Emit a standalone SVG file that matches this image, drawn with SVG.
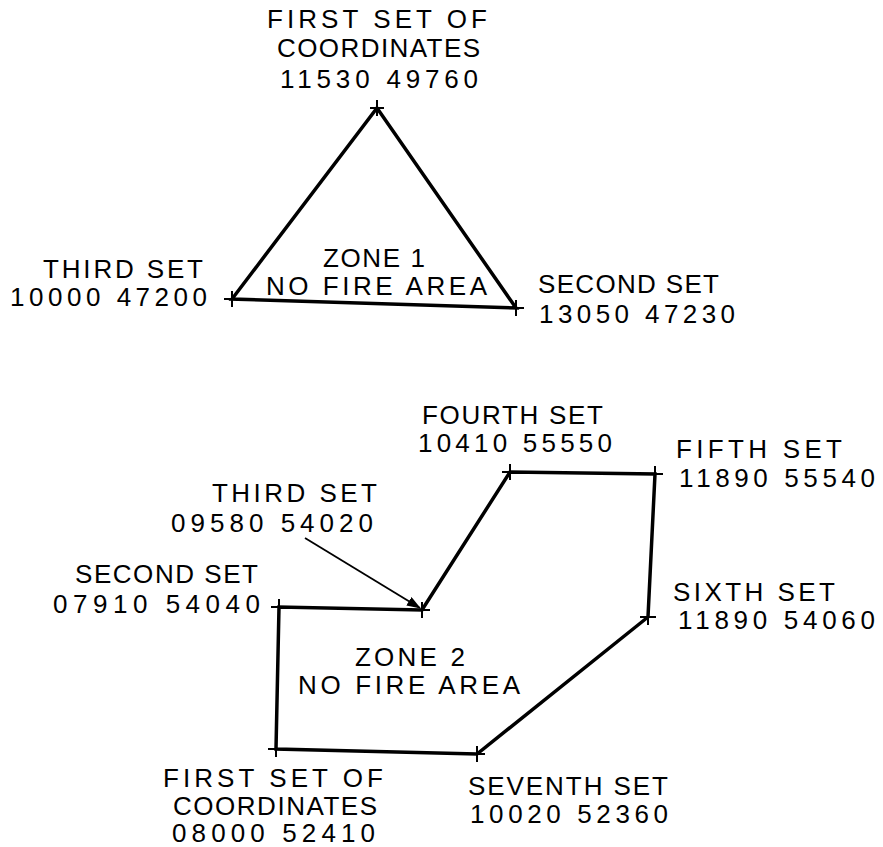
<svg xmlns="http://www.w3.org/2000/svg" width="883" height="847" viewBox="0 0 883 847">
<defs>
<style>
text{font-family:"Liberation Sans","DejaVu Sans",sans-serif;font-size:26px;fill:#000}
.edge{fill:none;stroke:#000;stroke-width:3.5;stroke-linejoin:miter}
.tick{stroke:#000;stroke-width:2}
.lead{stroke:#000;stroke-width:1.8;fill:none}
</style>
<marker id="ah" markerWidth="14" markerHeight="10" refX="13" refY="5" orient="auto" markerUnits="userSpaceOnUse">
<path d="M0,0 L14,5 L0,10 Z" fill="#000"/>
</marker>
</defs>
<rect width="883" height="847" fill="#fff"/>

<g id="zone1">
<polygon class="edge" points="377,108 516,308 232,299"/>
<text x="323" y="267" textLength="102">ZONE 1</text>
<text x="266" y="295" textLength="221">NO FIRE AREA</text>
</g>
<g id="z1-first">
<path class="tick" d="M377,100 V116 M370,108 H384"/>
<text x="267" y="28" textLength="220">FIRST SET OF</text>
<text x="277" y="57" textLength="203">COORDINATES</text>
<text x="280" y="88" textLength="198">11530 49760</text>
</g>
<g id="z1-second">
<path class="tick" d="M516,300 V316 M508,308 H524"/>
<text x="538" y="293" textLength="181">SECOND SET</text>
<text x="539" y="323" textLength="196">13050 47230</text>
</g>
<g id="z1-third">
<path class="tick" d="M232,291 V307 M224,299 H240"/>
<text x="43" y="278" textLength="160">THIRD SET</text>
<text x="10" y="306" textLength="197">10000 47200</text>
</g>

<g id="zone2">
<polygon class="edge" points="276,749 279,607 422,610 510,472 655,474 648,617 477,754"/>
<text x="355" y="666" textLength="110">ZONE 2</text>
<text x="298" y="694" textLength="222">NO FIRE AREA</text>
</g>
<g id="z2-first">
<path class="tick" d="M276,741 V757 M268,749 H284"/>
<text x="163" y="787" textLength="220">FIRST SET OF</text>
<text x="173" y="815" textLength="204">COORDINATES</text>
<text x="172" y="842" textLength="203">08000 52410</text>
</g>
<g id="z2-second">
<path class="tick" d="M279,599 V615 M271,607 H287"/>
<text x="75" y="583" textLength="183">SECOND SET</text>
<text x="53" y="613" textLength="207">07910 54040</text>
</g>
<g id="z2-third">
<path class="tick" d="M422,602 V618 M414,610 H430"/>
<text x="212" y="502" textLength="165">THIRD SET</text>
<text x="171" y="532" textLength="202">09580 54020</text>
</g>
<g id="z2-fourth">
<path class="tick" d="M510,464 V480 M502,472 H518"/>
<text x="422" y="424" textLength="181">FOURTH SET</text>
<text x="418" y="452" textLength="194">10410 55550</text>
</g>
<g id="z2-fifth">
<path class="tick" d="M655,466 V482 M647,474 H663"/>
<text x="676" y="458" textLength="166">FIFTH SET</text>
<text x="679" y="487" textLength="196">11890 55540</text>
</g>
<g id="z2-sixth">
<path class="tick" d="M648,609 V625 M640,617 H656"/>
<text x="673" y="601" textLength="162">SIXTH SET</text>
<text x="678" y="629" textLength="197">11890 54060</text>
</g>
<g id="z2-seventh">
<path class="tick" d="M477,746 V762 M469,754 H485"/>
<text x="468" y="795" textLength="200">SEVENTH SET</text>
<text x="470" y="823" textLength="198">10020 52360</text>
</g>

<g id="connectors">
<line class="lead" x1="305" y1="538" x2="420" y2="608" marker-end="url(#ah)"/>
</g>
</svg>
